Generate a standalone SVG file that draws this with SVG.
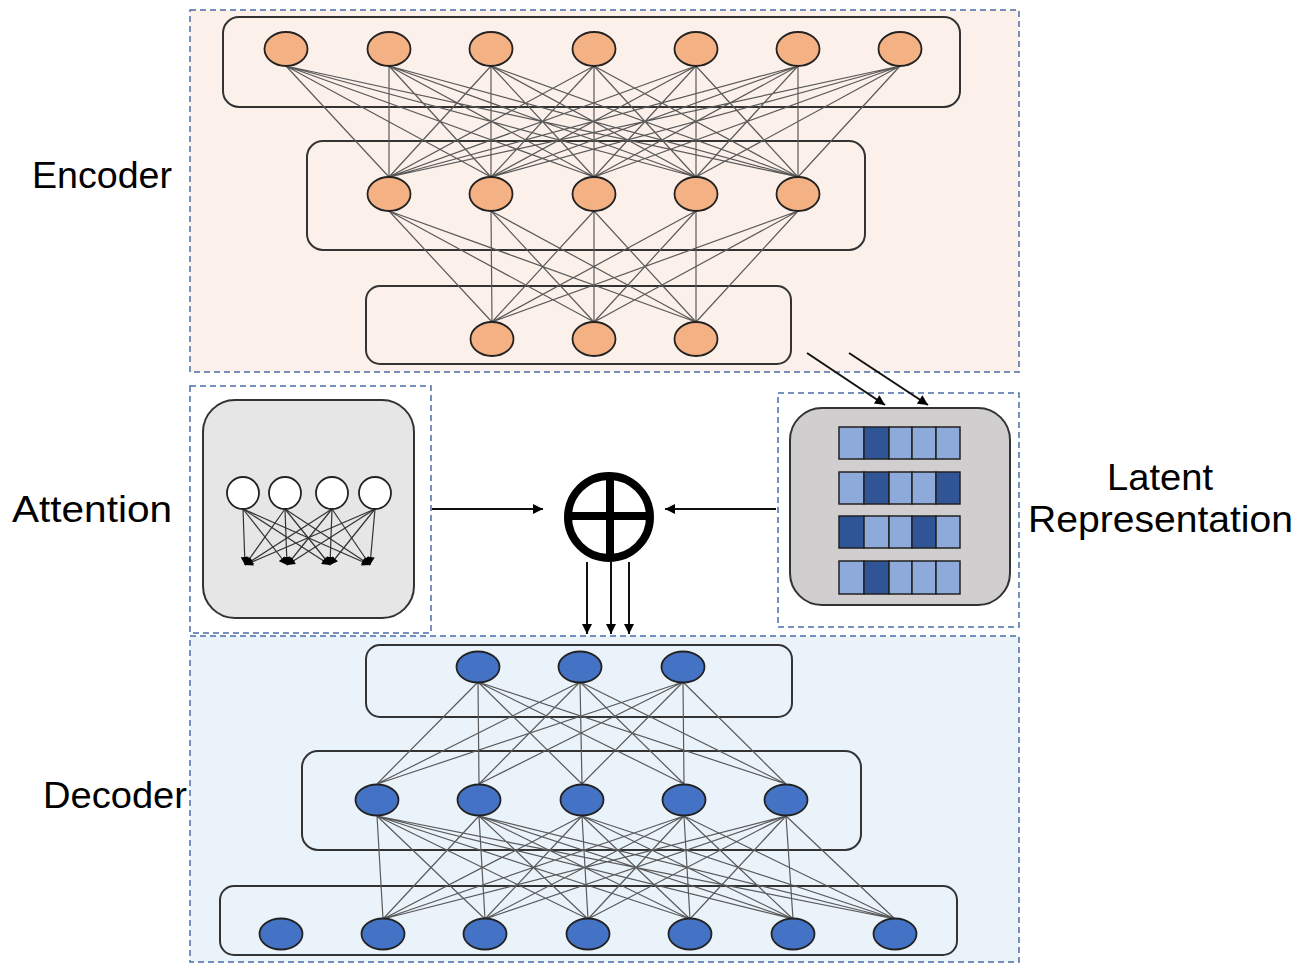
<svg xmlns="http://www.w3.org/2000/svg" width="1305" height="964" viewBox="0 0 1305 964">
<defs>
<style>
.sec{stroke:#4a6ea8;stroke-width:1.5;stroke-dasharray:6 4}
.layer{fill:none;stroke:#333;stroke-width:2}
.enc{fill:#f4b183;stroke:#222;stroke-width:1.8}
.dec{fill:#4472c4;stroke:#222;stroke-width:1.8}
.net{fill:none;stroke:#5a5a5a;stroke-width:1.2}
.arr{fill:none;stroke:#111;stroke-width:2}
.lbl{font-family:"Liberation Sans",Arial,sans-serif;font-size:37px;fill:#000}
.lt{fill:#8eaadb;stroke:#222;stroke-width:1.5}
.dk{fill:#2f5597;stroke:#222;stroke-width:1.5}
</style>
<marker id="ah" viewBox="0 0 10 10" refX="10" refY="5" markerWidth="12" markerHeight="10" markerUnits="userSpaceOnUse" orient="auto">
<path d="M0 0L10 5L0 10z" fill="#000"/>
</marker>
<marker id="ahs" viewBox="0 0 10 10" refX="10" refY="5" markerWidth="9" markerHeight="8" markerUnits="userSpaceOnUse" orient="auto">
<path d="M0 0L10 5L0 10z" fill="#000"/>
</marker>
</defs>
<rect width="1305" height="964" fill="#fff"/>

<g id="encoder-section">
<rect class="sec" x="190" y="10" width="829" height="362" fill="#fcf0ea"/>
<rect class="layer" x="223" y="17" width="737" height="90" rx="16"/>
<rect class="layer" x="307" y="141" width="558" height="109" rx="16"/>
<rect class="layer" x="366" y="286" width="425" height="78" rx="14"/>
</g>
<g id="attention-section">
<rect class="sec" x="190" y="386" width="241" height="247" fill="#fff"/>
<rect x="203" y="400" width="211" height="218" rx="32" fill="#e7e6e6" stroke="#333" stroke-width="2"/>
</g>
<g id="latent-section">
<rect class="sec" x="778" y="393" width="241" height="234" fill="#fff"/>
<rect x="790" y="408" width="220" height="197" rx="32" fill="#d0cece" stroke="#333" stroke-width="2"/>
</g>
<g id="decoder-section">
<rect class="sec" x="190" y="636" width="829" height="326" fill="#eaf2fa"/>
<rect class="layer" x="366" y="645" width="426" height="72" rx="14"/>
<rect class="layer" x="302" y="751" width="559" height="99" rx="16"/>
<rect class="layer" x="220" y="886" width="737" height="69" rx="14"/>
</g>

<g id="connectors">
<path class="net" d="M286 66L389 177M286 66L491 177M286 66L594 177M286 66L696 177M286 66L798 177
M389 66L389 177M389 66L491 177M389 66L594 177M389 66L696 177M389 66L798 177
M491 66L389 177M491 66L491 177M491 66L594 177M491 66L696 177M491 66L798 177
M594 66L389 177M594 66L491 177M594 66L594 177M594 66L696 177M594 66L798 177
M696 66L389 177M696 66L491 177M696 66L594 177M696 66L696 177M696 66L798 177
M798 66L389 177M798 66L491 177M798 66L594 177M798 66L696 177M798 66L798 177
M900 66L389 177M900 66L491 177M900 66L594 177M900 66L696 177M900 66L798 177"/>
<path class="net" d="M389 211L492 322M389 211L594 322M389 211L696 322
M491 211L492 322M491 211L594 322M491 211L696 322
M594 211L492 322M594 211L594 322M594 211L696 322
M696 211L492 322M696 211L594 322M696 211L696 322
M798 211L492 322M798 211L594 322M798 211L696 322"/>
<path class="net" d="M478 682L377 784M478 682L479 784M478 682L582 784M478 682L684 784M478 682L786 784
M580 682L377 784M580 682L479 784M580 682L582 784M580 682L684 784M580 682L786 784
M683 682L377 784M683 682L479 784M683 682L582 784M683 682L684 784M683 682L786 784"/>
<path class="net" d="M377 816L383 919M377 816L485 919M377 816L588 919M377 816L690 919M377 816L793 919M377 816L895 919
M479 816L383 919M479 816L485 919M479 816L588 919M479 816L690 919M479 816L793 919M479 816L895 919
M582 816L383 919M582 816L485 919M582 816L588 919M582 816L690 919M582 816L793 919M582 816L895 919
M684 816L383 919M684 816L485 919M684 816L588 919M684 816L690 919M684 816L793 919M684 816L895 919
M786 816L383 919M786 816L485 919M786 816L588 919M786 816L690 919M786 816L793 919M786 816L895 919"/>
<g stroke="#333" stroke-width="1.2" marker-end="url(#ahs)">
<line x1="243" y1="509" x2="245" y2="565"/><line x1="243" y1="509" x2="287" y2="565"/><line x1="243" y1="509" x2="330" y2="565"/><line x1="243" y1="509" x2="370" y2="565"/>
<line x1="285" y1="509" x2="245" y2="565"/><line x1="285" y1="509" x2="287" y2="565"/><line x1="285" y1="509" x2="330" y2="565"/><line x1="285" y1="509" x2="370" y2="565"/>
<line x1="332" y1="509" x2="245" y2="565"/><line x1="332" y1="509" x2="287" y2="565"/><line x1="332" y1="509" x2="330" y2="565"/><line x1="332" y1="509" x2="370" y2="565"/>
<line x1="375" y1="509" x2="245" y2="565"/><line x1="375" y1="509" x2="287" y2="565"/><line x1="375" y1="509" x2="330" y2="565"/><line x1="375" y1="509" x2="370" y2="565"/>
</g>
<line class="arr" x1="807" y1="353" x2="885" y2="405" marker-end="url(#ah)"/>
<line class="arr" x1="849" y1="353" x2="928" y2="405" marker-end="url(#ah)"/>
<line class="arr" x1="432" y1="509" x2="543" y2="509" marker-end="url(#ah)"/>
<line class="arr" x1="776" y1="509" x2="665" y2="509" marker-end="url(#ah)"/>
<line class="arr" x1="587" y1="562" x2="587" y2="634" marker-end="url(#ah)"/>
<line class="arr" x1="611" y1="562" x2="611" y2="634" marker-end="url(#ah)"/>
<line class="arr" x1="629" y1="562" x2="629" y2="634" marker-end="url(#ah)"/>
</g>

<g id="encoder-nodes">
<ellipse class="enc" cx="286" cy="49" rx="21.5" ry="17"/>
<ellipse class="enc" cx="389" cy="49" rx="21.5" ry="17"/>
<ellipse class="enc" cx="491" cy="49" rx="21.5" ry="17"/>
<ellipse class="enc" cx="594" cy="49" rx="21.5" ry="17"/>
<ellipse class="enc" cx="696" cy="49" rx="21.5" ry="17"/>
<ellipse class="enc" cx="798" cy="49" rx="21.5" ry="17"/>
<ellipse class="enc" cx="900" cy="49" rx="21.5" ry="17"/>
<ellipse class="enc" cx="389" cy="194" rx="21.5" ry="17"/>
<ellipse class="enc" cx="491" cy="194" rx="21.5" ry="17"/>
<ellipse class="enc" cx="594" cy="194" rx="21.5" ry="17"/>
<ellipse class="enc" cx="696" cy="194" rx="21.5" ry="17"/>
<ellipse class="enc" cx="798" cy="194" rx="21.5" ry="17"/>
<ellipse class="enc" cx="492" cy="339" rx="21.5" ry="17"/>
<ellipse class="enc" cx="594" cy="339" rx="21.5" ry="17"/>
<ellipse class="enc" cx="696" cy="339" rx="21.5" ry="17"/>
</g>

<g id="decoder-nodes">
<ellipse class="dec" cx="478" cy="667" rx="21.5" ry="15.5"/>
<ellipse class="dec" cx="580" cy="667" rx="21.5" ry="15.5"/>
<ellipse class="dec" cx="683" cy="667" rx="21.5" ry="15.5"/>
<ellipse class="dec" cx="377" cy="800" rx="21.5" ry="15.5"/>
<ellipse class="dec" cx="479" cy="800" rx="21.5" ry="15.5"/>
<ellipse class="dec" cx="582" cy="800" rx="21.5" ry="15.5"/>
<ellipse class="dec" cx="684" cy="800" rx="21.5" ry="15.5"/>
<ellipse class="dec" cx="786" cy="800" rx="21.5" ry="15.5"/>
<ellipse class="dec" cx="281" cy="934" rx="21.5" ry="15.5"/>
<ellipse class="dec" cx="383" cy="934" rx="21.5" ry="15.5"/>
<ellipse class="dec" cx="485" cy="934" rx="21.5" ry="15.5"/>
<ellipse class="dec" cx="588" cy="934" rx="21.5" ry="15.5"/>
<ellipse class="dec" cx="690" cy="934" rx="21.5" ry="15.5"/>
<ellipse class="dec" cx="793" cy="934" rx="21.5" ry="15.5"/>
<ellipse class="dec" cx="895" cy="934" rx="21.5" ry="15.5"/>
</g>

<g id="attention-nodes" fill="#fff" stroke="#222" stroke-width="1.8">
<circle cx="243" cy="493" r="16"/>
<circle cx="285" cy="493" r="16"/>
<circle cx="332" cy="493" r="16"/>
<circle cx="375" cy="493" r="16"/>
</g>

<g id="latent-cells">
<rect class="lt" x="839" y="427" width="25" height="32"/><rect class="dk" x="864" y="427" width="25" height="32"/><rect class="lt" x="889" y="427" width="23" height="32"/><rect class="lt" x="912" y="427" width="24" height="32"/><rect class="lt" x="936" y="427" width="24" height="32"/>
<rect class="lt" x="839" y="472" width="25" height="32"/><rect class="dk" x="864" y="472" width="25" height="32"/><rect class="lt" x="889" y="472" width="23" height="32"/><rect class="lt" x="912" y="472" width="24" height="32"/><rect class="dk" x="936" y="472" width="24" height="32"/>
<rect class="dk" x="839" y="516" width="25" height="32"/><rect class="lt" x="864" y="516" width="25" height="32"/><rect class="lt" x="889" y="516" width="23" height="32"/><rect class="dk" x="912" y="516" width="24" height="32"/><rect class="lt" x="936" y="516" width="24" height="32"/>
<rect class="lt" x="839" y="561" width="25" height="33"/><rect class="dk" x="864" y="561" width="25" height="33"/><rect class="lt" x="889" y="561" width="23" height="33"/><rect class="lt" x="912" y="561" width="24" height="33"/><rect class="lt" x="936" y="561" width="24" height="33"/>
</g>

<g id="oplus" fill="none" stroke="#000" stroke-width="8">
<circle cx="609" cy="517" r="41"/>
<line x1="568" y1="516" x2="650" y2="516"/>
<line x1="610" y1="476" x2="610" y2="558"/>
</g>

<g id="labels">
<text class="lbl" x="32" y="188" textLength="140" lengthAdjust="spacingAndGlyphs">Encoder</text>
<text class="lbl" x="12" y="522" textLength="160" lengthAdjust="spacingAndGlyphs">Attention</text>
<text class="lbl" x="43" y="808" textLength="144" lengthAdjust="spacingAndGlyphs">Decoder</text>
<text class="lbl" x="1107" y="490" textLength="106" lengthAdjust="spacingAndGlyphs">Latent</text>
<text class="lbl" x="1028" y="532" textLength="265" lengthAdjust="spacingAndGlyphs">Representation</text>
</g>
</svg>
